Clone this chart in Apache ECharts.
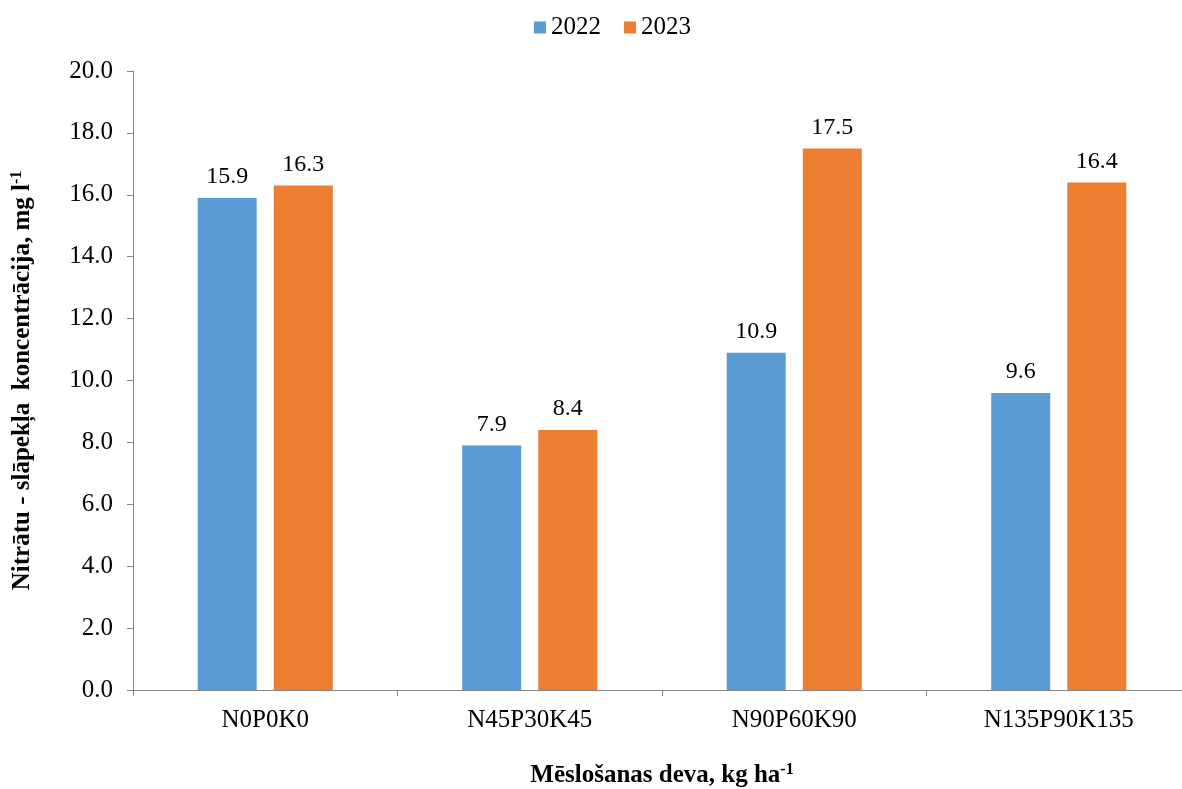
<!DOCTYPE html>
<html>
<head>
<meta charset="utf-8">
<script src="https://cdn.jsdelivr.net/npm/echarts@6/dist/echarts.min.js"></script>
<style>
  html, body { margin: 0; padding: 0; background: #fff; }
  #chart { width: 1182px; height: 789px; }
</style>
</head>
<body>
<div id="chart"></div>
<script>
// Fertilisation rates (x categories)
const categories = ['N0P0K0', 'N45P30K45', 'N90P60K90', 'N135P90K135'];
// Nitrate-nitrogen concentration, mg l-1
const values2022 = [15.9, 7.9, 10.9, 9.6];
const values2023 = [16.3, 8.4, 17.5, 16.4];
const seriesNames = ['2022', '2023'];

const FONT = '"Liberation Serif", "Times New Roman", serif';
const AXIS_COLOR = '#868686';

const chart = echarts.init(document.getElementById('chart'));

const labelOpt = {
  show: true,
  position: 'top',
  distance: 9,
  fontFamily: FONT,
  fontSize: 24,
  color: '#000',
  formatter: p => p.value.toFixed(1)
};

chart.setOption({
  animation: false,
  textStyle: { fontFamily: FONT },
  legend: {
    top: 10,
    left: 529,
    itemWidth: 12,
    itemHeight: 12,
    itemGap: 23,
    icon: 'rect',
    textStyle: { fontFamily: FONT, fontSize: 25, color: '#000' },
    data: seriesNames
  },
  grid: { left: 133, right: -9, top: 71, bottom: 99, containLabel: false, outerBoundsMode: 'none' },
  xAxis: {
    type: 'category',
    data: categories,
    name: 'Mēslošanas deva, kg ha{sup|-1}',
    nameLocation: 'middle',
    nameGap: 72,
    nameTextStyle: {
      fontFamily: FONT, fontSize: 25, fontWeight: 'bold', color: '#000',
      rich: { sup: { fontFamily: FONT, fontSize: 16, fontWeight: 'bold', color: '#000', padding: [0, 0, 12, 0] } }
    },
    axisLine: { lineStyle: { color: AXIS_COLOR, width: 1 } },
    axisTick: { show: true, length: 6, lineStyle: { color: AXIS_COLOR } },
    axisLabel: { fontFamily: FONT, fontSize: 25, color: '#000', margin: 18 }
  },
  yAxis: {
    type: 'value',
    min: 0,
    max: 20,
    interval: 2,
    name: 'Nitrātu - slāpekļa  koncentrācija, mg l{sup|-1}',
    nameLocation: 'middle',
    nameGap: 96,
    nameRotate: 90,
    nameTextStyle: {
      fontFamily: FONT, fontSize: 25, fontWeight: 'bold', color: '#000',
      rich: { sup: { fontFamily: FONT, fontSize: 16, fontWeight: 'bold', color: '#000', padding: [0, 0, 12, 0] } }
    },
    axisLine: { show: true, lineStyle: { color: AXIS_COLOR, width: 1 } },
    axisTick: { show: true, length: 6, lineStyle: { color: AXIS_COLOR } },
    splitLine: { show: false },
    axisLabel: {
      fontFamily: FONT, fontSize: 25, color: '#000', margin: 20,
      formatter: v => v.toFixed(1)
    }
  },
  series: [
    {
      name: seriesNames[0],
      type: 'bar',
      data: values2022,
      barWidth: 59,
      barGap: '29%',
      itemStyle: { color: '#5B9BD5' },
      label: labelOpt
    },
    {
      name: seriesNames[1],
      type: 'bar',
      data: values2023,
      barWidth: 59,
      itemStyle: { color: '#ED7D31' },
      label: labelOpt
    }
  ]
});
</script>
</body>
</html>
